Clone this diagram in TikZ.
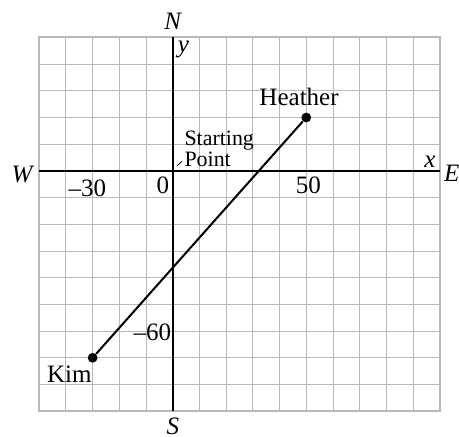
\documentclass[tikz,border=0pt]{standalone}
\usepackage{fontspec}
\setmainfont{Liberation Serif}
\usepackage{xcolor}
\usepackage{tikz}
\usetikzlibrary{positioning,calc}
\definecolor{gridgray}{RGB}{185,185,185}
\tikzset{
    gridline/.style={
        draw=gridgray,
        line width=0.6pt
    },
    gridframe/.style={
        draw=gridgray,
        line width=1.3pt
    },
    axis/.style={
        draw=black,
        line width=1.3pt
    },
    lbl/.style={
        inner sep=0pt,
        font=\fontsize{16}{18}\selectfont
    },
    compass/.style={
        lbl,
        font=\fontsize{16}{18}\selectfont\itshape
    },
    dot/.style={
        circle,
        fill=black,
        inner sep=0pt,
        minimum size=0.22cm
    },
    trip/.style={
        line width=1.3pt
    }
}

\begin{document}
\begin{tikzpicture}[x=0.06cm, y=0.06cm]
\useasboundingbox (-64.7,-99.6) rectangle (107.2,64.0);

% grid
\foreach \gx in {-40,-30,...,90}
    \draw[gridline] (\gx,-90) -- (\gx,50);
\foreach \gy in {-80,-70,...,40}
    \draw[gridline] (-50,\gy) -- (100,\gy);
\draw[gridframe] (-50,-90) rectangle (100,50);

% axes
\coordinate (west-end) at (-50,0);
\coordinate (east-end) at (100,0);
\coordinate (north-end) at (0,50);
\coordinate (south-end) at (0,-90);
\draw[axis] (west-end) -- (east-end);
\draw[axis] (south-end) -- (north-end);

% compass directions
\node[compass] (north) at (0,56) {N};
\node[compass] (south) at (0,-95.6) {S};
\node[compass] (west) at (-56.4,-1.2) {W};
\node[compass] (east) at (104.5,-0.8) {E};
\node[compass] (y-lbl) at (4,45.3) {y};
\node[compass] (x-lbl) at (96.3,3.4) {x};

% tick values
\node[lbl] (m30) at (-32,-6.5) {\textendash30};
\node[lbl] (zero) at (-3.7,-5.5) {0};
\node[lbl] (p50) at (50.8,-5.5) {50};
\node[lbl, anchor=east] (m60) at (-0.5,-60.3) {\textendash60};

% starting point
\node[lbl, align=left, anchor=south west, font=\fontsize{14}{11.5}\selectfont] (start) at (4.3,1.6) {Starting\\Point};
\coordinate (start-tip) at (1.6,1.9);
\draw[line width=0.5pt] (start-tip) -- ++(1.9,1.8);

% Kim and Heather
\node[dot] (kim-pt) at (-30,-70) {};
\node[dot] (heather-pt) at (50,20) {};
\draw[trip] (kim-pt) -- (heather-pt);
\node[lbl] (kim) at (-38.7,-76) {Kim};
\node[lbl] (heather) at (47.3,27.7) {Heather};
\end{tikzpicture}
\end{document}
